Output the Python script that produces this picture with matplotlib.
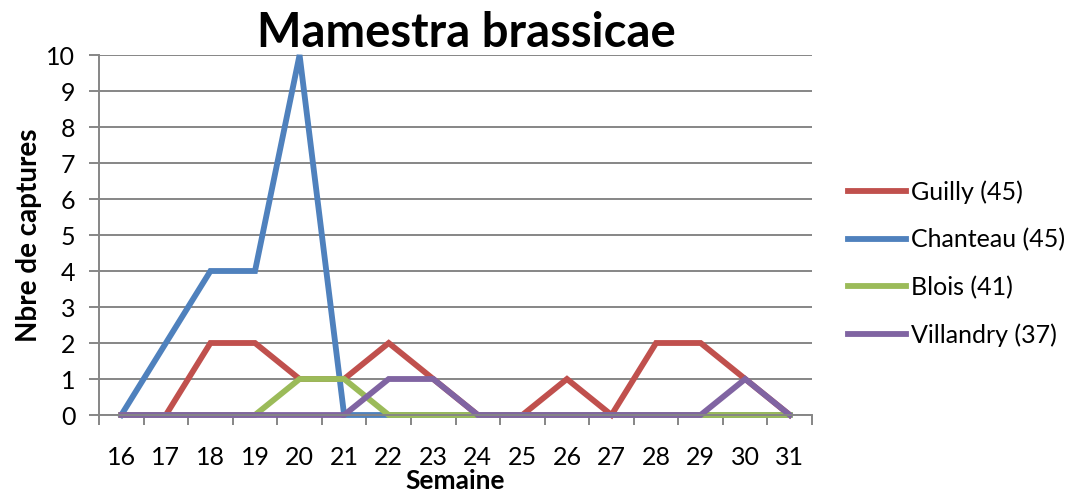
import matplotlib.pyplot as plt

semaines = ['16', '17', '18', '19', '20', '21', '22', '23', '24', '25', '26', '27', '28', '29', '30', '31']
guilly = [0, 0, 2, 2, 1, 1, 2, 1, 0, 0, 1, 0, 2, 2, 1, 0]
chanteau = [0, 2, 4, 4, 10, 0, 0, 0, 0, 0, 0, 0, 0, 0, 0, 0]
blois = [0, 0, 0, 0, 1, 1, 0, 0, 0, 0, 0, 0, 0, 0, 0, 0]
villandry = [0, 0, 0, 0, 0, 0, 1, 1, 0, 0, 0, 0, 0, 0, 1, 0]

series = [
    ('Guilly (45)', guilly, '#C0504D'),
    ('Chanteau (45)', chanteau, '#4F81BD'),
    ('Blois (41)', blois, '#9BBB59'),
    ('Villandry (37)', villandry, '#8064A2'),
]

plt.rcParams['font.family'] = ['Lato', 'DejaVu Sans']
gris = '#868686'

fig = plt.figure(figsize=(10.73, 4.92), dpi=100)
ax = fig.add_axes([0.0923, 0.1565, 0.6645, 0.7317])

x = list(range(len(semaines)))
for nom, vals, couleur in series:
    ax.plot(x, vals, color=couleur, lw=4.2, label=nom, solid_joinstyle='miter', clip_on=False)

ax.set_xlim(-0.5, len(semaines) - 0.5)
ax.set_ylim(0, 10)
ax.set_yticks(range(11))
ax.yaxis.grid(True, color=gris, lw=1.4)
ax.set_axisbelow(True)

ax.set_xticks(x)
ax.set_xticklabels(semaines)
ax.set_xticks([i - 0.5 for i in range(len(semaines) + 1)], minor=True)
ax.tick_params(axis='x', which='major', length=0, pad=22, labelsize=18)
ax.tick_params(axis='x', which='minor', length=7, width=1.4, color=gris, direction='out')
ax.tick_params(axis='y', length=7, width=1.4, color=gris, pad=10, labelsize=18)

for s in ['top', 'right']:
    ax.spines[s].set_visible(False)
for s in ['left', 'bottom']:
    ax.spines[s].set_color(gris)
    ax.spines[s].set_linewidth(1.4)

ax.set_title('Mamestra brassicae', fontsize=34, fontweight='bold', pad=4, x=0.515)
ax.set_xlabel('Semaine', fontsize=19, fontweight='bold', va='center')
ax.xaxis.set_label_coords(0.5, -0.182)
ax.set_ylabel('Nbre de captures', fontsize=20, fontweight='bold', va='center')
ax.yaxis.set_label_coords(-0.098, 0.5)

ax.legend(loc='center left', bbox_to_anchor=(1.05, 0.42), frameon=False, fontsize=18,
          handlelength=2.35, handletextpad=0.17, labelspacing=0.97, borderpad=0,
          borderaxespad=0)

fig.savefig('out.png', dpi=100)
